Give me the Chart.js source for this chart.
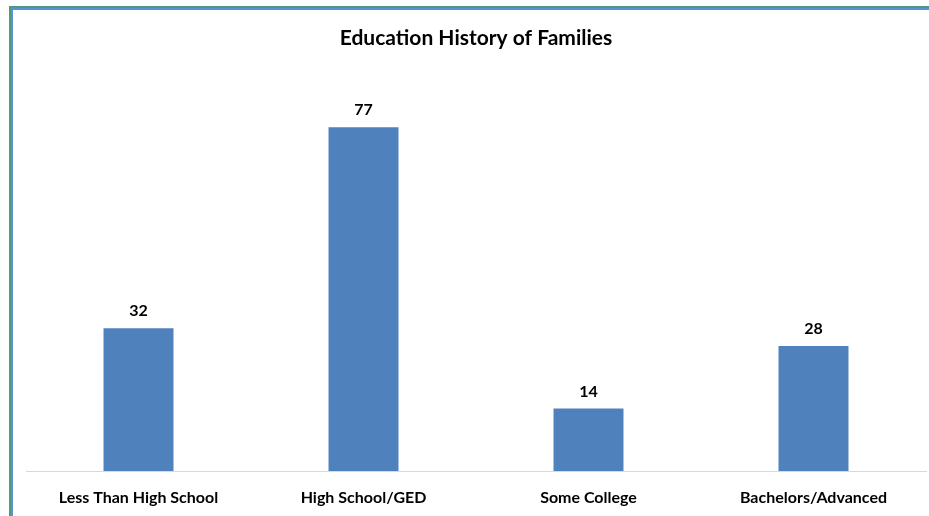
<!DOCTYPE html>
<html>
<head>
<meta charset="utf-8">
<style>
  html, body { margin: 0; padding: 0; background: #ffffff; }
  #wrap { position: relative; width: 929px; height: 516px; }
</style>
<script src="https://cdn.jsdelivr.net/npm/chart.js@4/dist/chart.umd.min.js"></script>
</head>
<body>
<div id="wrap"><canvas id="chart" width="929" height="516"></canvas></div>
<script>
const categories = ['Less Than High School', 'High School/GED', 'Some College', 'Bachelors/Advanced'];
const families = [32, 77, 14, 28];

const FONT = "'Lato', 'Liberation Sans', sans-serif";

// Frame: double line (green outside, blue inside) along top and left edges
const framePlugin = {
  id: 'frame',
  beforeDraw(chart) {
    const ctx = chart.ctx;
    ctx.save();
    ctx.fillStyle = '#ffffff';
    ctx.fillRect(0, 0, chart.width, chart.height);
    ctx.fillStyle = '#4e9b7c';
    ctx.fillRect(9, 6, chart.width - 9, 2);
    ctx.fillRect(9, 6, 2, chart.height - 6);
    ctx.fillStyle = '#5b8fd8';
    ctx.fillRect(11, 8, chart.width - 11, 2);
    ctx.fillRect(11, 8, 2, chart.height - 8);
    ctx.restore();
  }
};

// Value labels above each bar
const valueLabels = {
  id: 'valueLabels',
  afterDatasetsDraw(chart) {
    const ctx = chart.ctx;
    const meta = chart.getDatasetMeta(0);
    ctx.save();
    ctx.font = 'bold 16px ' + FONT;
    ctx.fillStyle = '#000000';
    ctx.textAlign = 'center';
    ctx.textBaseline = 'middle';
    meta.data.forEach((bar, i) => {
      ctx.fillText(String(families[i]), bar.x, bar.y - 17);
    });
    ctx.restore();
  }
};

new Chart(document.getElementById('chart'), {
  type: 'bar',
  data: {
    labels: categories,
    datasets: [{
      data: families,
      backgroundColor: '#4f81bd',
      borderWidth: 0,
      barPercentage: 0.311,
      categoryPercentage: 1.0
    }]
  },
  options: {
    responsive: false,
    animation: false,
    devicePixelRatio: 1,
    layout: { padding: { left: 26, right: 3, top: 0, bottom: 0 } },
    plugins: {
      legend: { display: false },
      tooltip: { enabled: false },
      title: {
        display: true,
        text: 'Education History of Families',
        color: '#000000',
        font: { family: FONT, size: 21, weight: 'bold' },
        padding: { top: 26, bottom: 18 }
      }
    },
    scales: {
      x: {
        grid: { display: false },
        border: { display: true, color: '#d9d9d9', width: 1 },
        ticks: {
          color: '#000000',
          font: { family: FONT, size: 16, weight: 'bold' },
          padding: 9,
          maxRotation: 0,
          autoSkip: false
        },
        afterFit(scale) { scale.height = 45; }
      },
      y: {
        display: false,
        min: 0,
        max: 90
      }
    }
  },
  plugins: [framePlugin, valueLabels]
});
</script>
</body>
</html>
